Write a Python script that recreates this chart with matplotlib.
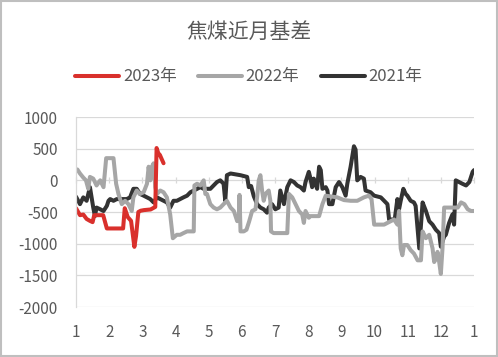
import matplotlib
matplotlib.use("Agg")
import matplotlib.pyplot as plt
from matplotlib.patches import Rectangle

plt.rcParams['font.family'] = ['Noto Sans CJK SC', 'DejaVu Sans']

title = "焦煤近月基差"
month_ticks = [1, 2, 3, 4, 5, 6, 7, 8, 9, 10, 11, 12, 13]
month_labels = ["1", "2", "3", "4", "5", "6", "7", "8", "9", "10", "11", "12", "1"]
y_ticks = [1000, 500, 0, -500, -1000, -1500, -2000]

x2023 = [1.00, 1.12, 1.22, 1.32, 1.42, 1.50, 1.55, 1.82, 1.93, 2.42, 2.47, 2.56, 2.66,
         2.76, 2.81, 2.88, 2.95, 3.05, 3.25, 3.39, 3.43, 3.48, 3.53, 3.58, 3.64]
v2023 = [-440, -550, -540, -610, -640, -660, -550, -550, -760, -760, -440, -580, -640,
         -1050, -880, -500, -480, -470, -460, -420, 510, 430, 400, 340, 270]

x2022 = [1.04, 1.12, 1.22, 1.30, 1.37, 1.42, 1.52, 1.62, 1.73, 1.83, 1.91, 2.13, 2.21,
         2.28, 2.38, 2.48, 2.58, 2.68, 2.73, 2.83, 2.93, 3.04, 3.14, 3.19, 3.24, 3.29,
         3.34, 3.39, 3.44, 3.54, 3.64, 3.74, 3.84, 3.92, 4.04, 4.14, 4.24, 4.35, 4.55,
         4.57, 4.65, 4.75, 4.85, 4.90, 4.95, 5.05, 5.15, 5.25, 5.35, 5.45, 5.55, 5.66,
         5.76, 5.86, 5.91, 5.93, 5.96, 6.06, 6.14, 6.22, 6.31, 6.41, 6.46, 6.51, 6.56,
         6.61, 6.66, 6.71, 6.81, 6.86, 6.88, 6.96, 7.37, 7.42, 7.52, 7.62, 7.72, 7.82,
         7.87, 7.92, 8.02, 8.07, 8.33, 8.43, 8.53, 8.88, 9.08, 9.28, 9.48, 9.68, 9.83,
         9.91, 9.99, 10.29, 10.49, 10.59, 10.69, 10.74, 10.79, 10.84, 10.89, 10.99,
         11.09, 11.19, 11.30, 11.40, 11.45, 11.55, 11.65, 11.75, 11.80, 11.85, 11.90,
         11.95, 12.00, 12.05, 12.10, 12.51, 12.61, 12.71, 12.81, 12.91, 13.00]
v2022 = [172, 108, 43, 0, -134, 54, 27, -81, 0, -108, 350, 350, -54,
         -215, -376, -323, -376, -484, -269, -161, -215, -188, -54, 215, 0, 215,
         269, -108, -215, -161, -188, -269, -538, -914, -860, -860, -833, -806, -806,
         -81, -54, -81, 0, -215, -215, -376, -430, -457, -430, -376, -323, -430,
         -484, -645, -620, -230, -806, -806, -780, -650, -484, -457, -269, 0, 81,
         -161, -323, -215, -161, -323, -806, -833, -833, -215, -269, -376, -484, -538,
         -672, -484, -591, -565, -565, -376, -242, -269, -312, -323, -323, -269, -242,
         -296, -699, -699, -645, -618, -699, -484, -1075, -1183, -1021, -1021,
         -1102, -1156, -1263, -1263, -806, -914, -860, -1075, -1290, -1237, -1129,
         -1290, -1478, -1075, -430, -430, -349, -376, -457, -484, -484]

x2021 = [1.00, 1.12, 1.22, 1.32, 1.42, 1.47, 1.52, 1.57, 1.62, 1.73, 1.83, 1.93, 1.98,
         2.03, 2.13, 2.23, 2.53, 2.63, 2.73, 2.83, 2.93, 3.04, 3.14, 3.24, 3.34, 3.44,
         3.54, 3.64, 3.74, 3.84, 3.94, 4.04, 4.14, 4.24, 4.35, 4.45, 4.55, 4.65, 4.75,
         4.85, 5.05, 5.15, 5.25, 5.35, 5.45, 5.50, 5.55, 5.66, 5.96, 6.16, 6.21, 6.28,
         6.36, 6.46, 6.56, 6.66, 6.76, 6.81, 6.91, 7.01, 7.11, 7.16, 7.27, 7.37, 7.47,
         7.57, 7.67, 7.77, 7.87, 7.92, 8.02, 8.07, 8.12, 8.17, 8.27, 8.33, 8.38, 8.43,
         8.53, 8.58, 8.63, 8.73, 8.83, 8.93, 9.03, 9.13, 9.18, 9.28, 9.38, 9.43, 9.48,
         9.58, 9.68, 9.73, 9.88, 9.99, 10.19, 10.29, 10.39, 10.44, 10.61, 10.69, 10.74,
         10.79, 10.87, 10.94, 10.99, 11.09, 11.19, 11.24, 11.35, 11.45, 11.55, 11.65,
         11.75, 11.85, 11.95, 12.00, 12.10, 12.15, 12.25, 12.35, 12.40, 12.45, 12.55,
         12.65, 12.76, 12.86, 12.96, 13.00]
v2021 = [-258, -376, -269, -323, -108, -269, -430, -565, -430, -457, -484, -403, -323,
         -296, -323, -296, -296, -269, -134, -134, -215, -242, -269, -296, -349, -269,
         -296, -323, -349, -430, -323, -323, -296, -269, -242, -188, -161, -134, -108,
         -134, -134, -81, -27, 0, -54, -323, 81, 108, 81, 54, -108, -90,
         -250, -376, -430, -457, -511, -430, -376, -457, -430, -161, -376, -108, 0,
         -27, -81, -108, -161, -27, 134, 27, -108, 27, -134, 215, 161, -134,
         -108, -161, -376, -376, -108, -27, -108, -242, -54, 215, 538, 484, 0,
         54, 27, -161, -188, -242, -269, -323, -376, -618, -618, -296, -457,
         -323, -134, -215, -242, -323, -349, -403, -1075, -349, -484, -645,
         -699, -780, -833, -1048, -887, -860, -672, -538, -699, 0, -27,
         -54, -81, -27, 134, 161]

series = [("2023年", x2023, v2023, "#d9302c"),
          ("2022年", x2022, v2022, "#a6a6a6"),
          ("2021年", x2021, v2021, "#333333")]

W, H = 498, 357
fig = plt.figure(figsize=(W / 100, H / 100), dpi=100)
ax = fig.add_axes([76 / W, 1 - 307 / H, (474 - 76) / W, (307 - 117) / H])

handles = []
for label, xs, vs, color in series[::-1]:
    ln, = ax.plot(xs, vs, color=color, lw=2.9, solid_joinstyle='round',
                  solid_capstyle='round', label=label)
    handles.append(ln)
handles = handles[::-1]

ax.set_xlim(1, 13)
ax.set_ylim(-2000, 1000)
ax.set_yticks(y_ticks)
ax.set_yticklabels([str(t) for t in y_ticks])
ax.set_xticks(month_ticks)
ax.set_xticklabels(month_labels)
ax.yaxis.grid(True, color="#d9d9d9", lw=0.9)
ax.set_axisbelow(True)
for s in ["top", "right", "bottom"]:
    ax.spines[s].set_visible(False)
ax.spines["left"].set_color("#d9d9d9")
ax.spines["left"].set_linewidth(0.9)
ax.tick_params(axis="y", length=0, pad=13, labelsize=11, labelcolor="#595959")
ax.tick_params(axis="x", length=0, pad=12, labelsize=11, labelcolor="#595959")

sec = ax.secondary_xaxis(2 / 3)
sec.set_xticks(month_ticks)
sec.set_xticklabels([])
sec.tick_params(axis="x", direction="inout", length=5, color="#d9d9d9", width=0.9)
sec.spines["bottom"].set_color("#d9d9d9")
sec.spines["bottom"].set_linewidth(0.9)
sec.spines["top"].set_visible(False)

fig.text(0.5, 1 - 32 / H, title, ha="center", va="center", fontsize=15, color="#595959")

fig.legend(handles=handles, labels=[s[0] for s in series], loc="center",
           bbox_to_anchor=(0.5, 1 - 77 / H), ncol=3, frameon=False, fontsize=12,
           handlelength=2.6, handletextpad=0.25, columnspacing=1.3,
           labelcolor="#595959")

fig.patches.append(Rectangle((0.002, 0.003), 0.996, 0.994, transform=fig.transFigure,
                             fill=False, edgecolor="#bfbfbf", lw=1.5))

fig.savefig("out.png", dpi=100)
